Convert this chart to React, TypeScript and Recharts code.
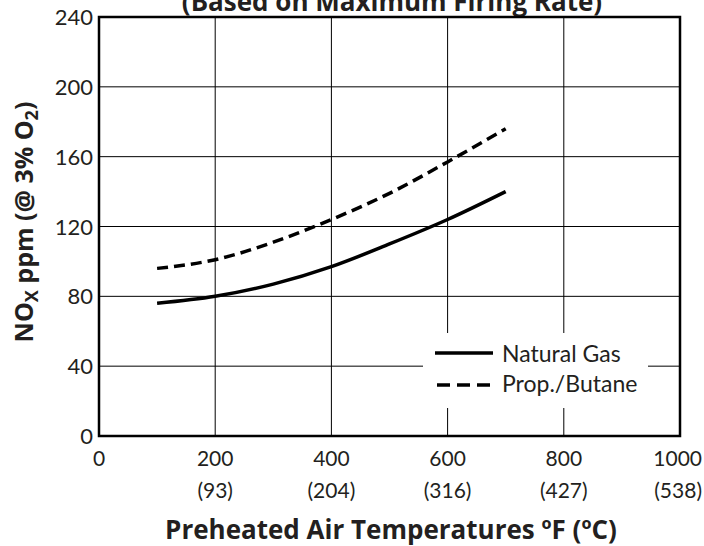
import React from 'react';
import { LineChart, Line, XAxis, YAxis, CartesianGrid, ReferenceArea, Customized } from 'recharts';

const temps = [100, 200, 300, 400, 500, 600, 700];
const naturalGas = [76, 80, 87, 97, 110, 124, 140];
const propaneButane = [96, 101, 111, 124, 139, 157, 176];

const xTicks = [0, 200, 400, 600, 800, 1000];
const celsiusLabels = ['', '(93)', '(204)', '(316)', '(427)', '(538)'];
const yTicks = [0, 40, 80, 120, 160, 200, 240];

const titleText = '(Based on Maximum Firing Rate)';
const xAxisTitle = 'Preheated Air Temperatures \u00BAF (\u00BAC)';
const seriesNames = ['Natural Gas', 'Prop./Butane'];

const data = temps.map((t, i) => ({ t, ng: naturalGas[i], pb: propaneButane[i] }));

const FONT = 'Lato, "Open Sans", sans-serif';
const BOLD = '"Open Sans", Lato, sans-serif';
const TXT = '#231f20';

const XTick = (props: any) => {
  const { x, payload } = props;
  const idx = xTicks.indexOf(payload.value);
  const last = idx === xTicks.length - 1;
  const tx = last ? 702 : x;
  const anchor = last ? 'end' : 'middle';
  return (
    <g>
      <text x={tx} y={466} textAnchor={anchor} fontSize={21} fill={TXT} fontFamily={FONT}>{payload.value}</text>
      {celsiusLabels[idx] ? (
        <text x={tx} y={498} textAnchor={anchor} fontSize={21} fill={TXT} fontFamily={FONT}>{celsiusLabels[idx]}</text>
      ) : null}
    </g>
  );
};

const YTick = (props: any) => {
  const { x, y, payload } = props;
  return (
    <text x={x} y={y + 8} textAnchor="end" fontSize={22} fill={TXT} fontFamily={FONT}>{payload.value}</text>
  );
};

const Overlay = () => (
  <g>
    <text x={392} y={11} textAnchor="middle" fontSize={26} fontWeight="bold" fill={TXT} fontFamily={BOLD}>{titleText}</text>
    <text x={391} y={539} textAnchor="middle" fontSize={26} fontWeight="bold" fill={TXT} fontFamily={BOLD}>{xAxisTitle}</text>
    <text x={0} y={0} transform="translate(33,222) rotate(-90)" textAnchor="middle" fontSize={25} fontWeight="bold" fill={TXT} fontFamily={BOLD}>
      NO<tspan fontSize={18} dy={5}>X</tspan><tspan dy={-5}> ppm (@ 3% O</tspan><tspan fontSize={18} dy={5}>2</tspan><tspan dy={-5}>)</tspan>
    </text>
    <g transform="translate(423,333)">
      <rect x={0} y={0} width={225} height={75} fill="#fff" />
      <line x1={12} y1={20} x2={70} y2={20} stroke="#000" strokeWidth={3.5} />
      <line x1={14} y1={52} x2={68} y2={52} stroke="#000" strokeWidth={3.5} strokeDasharray="13 7" />
      <text x={79} y={29} fontSize={23} fill={TXT} fontFamily={FONT}>{seriesNames[0]}</text>
      <text x={79} y={59} fontSize={23} fill={TXT} fontFamily={FONT}>{seriesNames[1]}</text>
    </g>
  </g>
);

export default function App() {
  return (
    <div style={{ position: 'absolute', left: 0, top: 0, width: 704, height: 546, background: '#fff' }}>
      <LineChart width={704} height={546} data={data} margin={{ top: 17, right: 24, bottom: 80, left: 39 }}>
        <CartesianGrid stroke="#000" strokeWidth={1} horizontalValues={yTicks} verticalValues={xTicks} />
        <XAxis dataKey="t" type="number" domain={[0, 1000]} ticks={xTicks} height={30} axisLine={false} tickLine={false} tickSize={0} tickMargin={8} tick={XTick} interval={0} />
        <YAxis type="number" domain={[0, 240]} ticks={yTicks} width={60} axisLine={false} tickLine={false} tickSize={0} tickMargin={6} tick={YTick} interval={0} />
        <Line type="monotone" dataKey="ng" name={seriesNames[0]} stroke="#000" strokeWidth={3.5} dot={false} isAnimationActive={false} />
        <Line type="monotone" dataKey="pb" name={seriesNames[1]} stroke="#000" strokeWidth={3.5} strokeDasharray="11 6" dot={false} isAnimationActive={false} />
        <ReferenceArea x1={0} x2={1000} y1={0} y2={240} fill="none" stroke="#000" strokeWidth={2.5} ifOverflow="visible" />
        <Customized component={Overlay} />
      </LineChart>
    </div>
  );
}
